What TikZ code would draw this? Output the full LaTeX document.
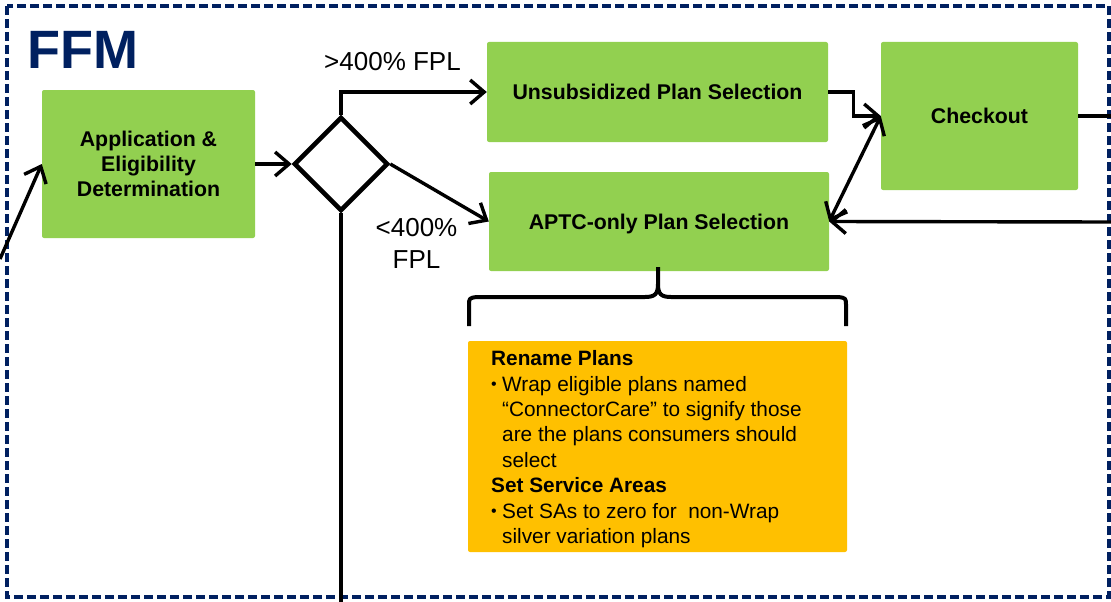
\documentclass[tikz,border=0pt]{standalone}
\usepackage{fontspec}
\setmainfont{Liberation Sans}
\setsansfont{Liberation Sans}
\usetikzlibrary{arrows.meta,shapes.geometric}
\definecolor{boxgreen}{HTML}{92D050}
\definecolor{noteorange}{HTML}{FFC000}
\definecolor{navy}{HTML}{002060}
\tikzset{
  greenbox/.style={fill=boxgreen, rounded corners=2pt, inner sep=0pt, align=center, text depth=0pt,
    font=\fontsize{21.3}{25}\selectfont\bfseries},
  conn/.style={line width=3.4pt, -{Straight Barb[length=14pt,width=24pt]}},
  plainconn/.style={line width=3.4pt},
  dualconn/.style={line width=3.4pt, {Straight Barb[length=14pt,width=24pt]}-{Straight Barb[length=14pt,width=24pt]}},
  decision/.style={diamond, draw, line width=4.6pt, minimum width=94pt, minimum height=94pt, inner sep=0pt, aspect=1},
  lbl/.style={inner sep=0pt, font=\fontsize{26}{32}\selectfont, align=center},
  bracestyle/.style={line width=4pt, line join=round},
  frame/.style={draw=navy, line width=3.5pt, dash pattern=on 9pt off 4pt},
}
\newcommand{\bul}{\makebox[11pt][l]{\raisebox{1.5pt}{\fontsize{16}{16}\selectfont•}}}
\newcommand{\ind}{\hspace*{11pt}}
\begin{document}
\begin{tikzpicture}[x=1pt,y=-1pt]
\useasboundingbox (0,0) rectangle (1111,602);
\draw[frame] (7,6) rectangle (1109,597);

\node[anchor=base west, inner sep=0pt, text=navy, font=\fontsize{54}{54}\selectfont\bfseries] (title) at (27,68) {FFM};

\node[greenbox, minimum width=213pt, minimum height=148pt] (app) at (148.5,164) {Application \&\\Eligibility\\Determination};
\node[decision] (dia) at (341,164) {};
\node[greenbox, minimum width=341pt, minimum height=100pt] (unsub) at (657.5,92) {Unsubsidized Plan Selection};
\node[greenbox, minimum width=340pt, minimum height=99pt] (aptc) at (659,221.5) {APTC-only Plan Selection};
\node[greenbox, minimum width=197pt, minimum height=148pt] (check) at (979.5,116) {Checkout};

\node[fill=noteorange, rounded corners=2pt, minimum width=379pt, minimum height=211pt, inner sep=0pt] (note) at (657.5,446.5) {};
\node[anchor=north west, inner sep=0pt, align=left, font=\fontsize{20.8}{25.4}\selectfont] (notetext) at (491,350.5)
 {\textbf{Rename Plans}\\
  \bul Wrap eligible plans named\\
  \ind “ConnectorCare” to signify those\\
  \ind are the plans consumers should\\
  \ind select\\
  \textbf{Set Service Areas}\\
  \bul Set SAs to zero for\ \ non-Wrap\\
  \ind silver variation plans};

\node[lbl] (hi) at (392.5,62) {>400\% FPL};
\node[lbl] (lo) at (416.5,243) {<400\%\\FPL};

\coordinate (inL) at (0,259);
\coordinate (outB) at (341,602);
\coordinate (inR) at (1111,222);
\coordinate (outR) at (1111,116);

\draw[conn] (inL) -- (app.west);
\draw[conn] (app.east) -- (dia.west);
\draw[conn] (dia.north) |- (unsub.west);
\draw[conn] (dia.east) -- (aptc.west);
\draw[plainconn] (dia.south) -- (outB);
\draw[conn] (unsub.east) -- ++(25,0) |- (check.west);
\draw[dualconn] (aptc.east) -- (check.west);
\draw[conn] (inR) -- (aptc.east);
\draw[plainconn] (check.east) -- (outR);

\coordinate (btip) at (658,267);
\draw[bracestyle] (469,326) -- (469,306) .. controls (469,298) .. (477,297)
  -- (645,297) .. controls (655,297) and (658,294) .. (658,284) -- (btip)
  (btip) -- (658,284) .. controls (658,294) and (661,297) .. (671,297)
  -- (838,297) .. controls (846,298) .. (846,306) -- (846,326);
\end{tikzpicture}
\end{document}
